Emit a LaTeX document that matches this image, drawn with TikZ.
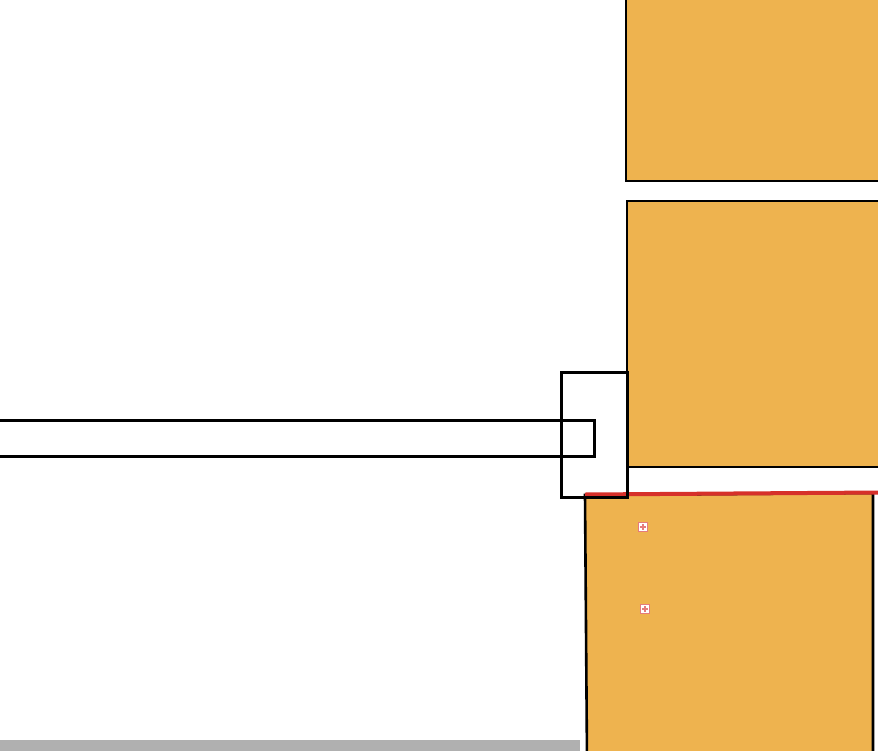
\documentclass[tikz,border=0pt]{standalone}
\begin{document}
\begin{tikzpicture}[x=1pt,y=-1pt,
  blk/.style={fill=orng,draw=black,line width=2.6pt},
  outl/.style={draw=black,line width=3pt},
  mk/.style={draw=mkred,fill=white,line width=1.3pt,minimum size=8.5pt,inner sep=0pt}]
\definecolor{orng}{HTML}{EEB34F}
\definecolor{redl}{HTML}{D6302A}
\definecolor{mkred}{HTML}{E57C7C}
\definecolor{greyb}{HTML}{B0B0B0}
\useasboundingbox (0,0) rectangle (878,750);
\begin{scope}
\clip (0,0) rectangle (878,750);
% top block
\draw[blk] (626,-10) rectangle (890,181);
% middle block
\draw[blk] (627,201) rectangle (890,467);
% bottom block
\draw[blk] (585,495) -- (873,493) -- (873,760) -- (587,760) -- cycle;
% red line
\draw[redl,line width=4pt] (585,494.5) -- (880,492.5);
% bracket box
\draw[outl] (561,372) rectangle (627,497);
% horizontal bar
\draw[outl] (-10,420) rectangle (594,456);
% grey bar
\fill[greyb] (0,740) rectangle (580,755);
% markers
\node[mk] (m1) at (643,527) {};
\node[mk] (m2) at (645,609) {};
\draw[mkred,line width=1.3pt] (m1.center) ++(-3,0) -- ++(6,0) (m1.center) ++(0,-3) -- ++(0,6);
\draw[mkred,line width=1.3pt] (m2.center) ++(-3,0) -- ++(6,0) (m2.center) ++(0,-3) -- ++(0,6);
\end{scope}
\end{tikzpicture}
\end{document}
